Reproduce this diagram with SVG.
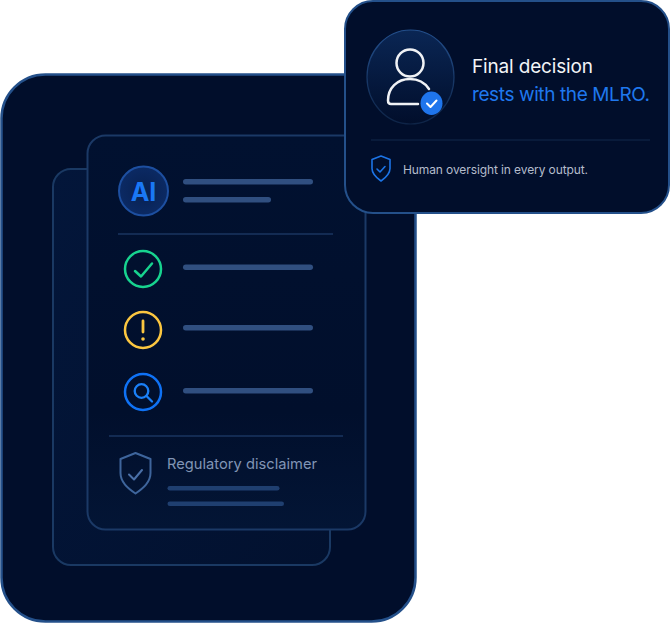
<svg xmlns="http://www.w3.org/2000/svg" width="670" height="624" viewBox="0 0 670 624">
<style>
.bar{fill:#304f80}
.lo{fill:#1f3f70}
.div{stroke:#1a3560;stroke-width:1.500;fill:none}
.ic{fill:none;stroke-linecap:round;stroke-linejoin:round}
text{font-family:Inter,"Liberation Sans",sans-serif}
</style>
<defs>
<linearGradient id="cardG" x1="0" y1="0" x2="1" y2="1"><stop offset="0" stop-color="#03163a"/><stop offset="1" stop-color="#02112f"/></linearGradient>
<linearGradient id="frontG" x1="0" y1="0" x2="0" y2="1"><stop offset="0" stop-color="#011130"/><stop offset=".7" stop-color="#010f2c"/><stop offset="1" stop-color="#031535"/></linearGradient>
<radialGradient id="aiG" cx="0.5" cy="0.5" r="0.6"><stop offset="0" stop-color="#082050"/><stop offset="1" stop-color="#0c2c68"/></radialGradient>
<linearGradient id="userG" x1="0" y1="0" x2="0" y2="1"><stop offset="0" stop-color="#0a2654"/><stop offset="1" stop-color="#010e2b"/></linearGradient>
<linearGradient id="userS" x1="0" y1="0" x2="0" y2="1"><stop offset="0" stop-color="#234f8c"/><stop offset="1" stop-color="#0e2447"/></linearGradient>
</defs>
<g id="outer-panel"><rect x="1.500" y="74.500" width="414" height="547" rx="44" fill="#010e2b" stroke="#24508a" stroke-width="2.500"/></g>
<g id="back-card"><rect x="53" y="169" width="277" height="396" rx="18" fill="url(#cardG)" stroke="#1a3963" stroke-width="2"/></g>
<g id="front-card">
<rect x="87.500" y="135.500" width="278" height="394" rx="18" fill="url(#frontG)" stroke="#1b3966" stroke-width="2"/>
<line class="div" x1="118" y1="234" x2="333" y2="234"/>
<line class="div" x1="109" y1="436" x2="343" y2="436"/>
</g>
<g id="ai-row">
<circle cx="143.500" cy="191" r="24.500" fill="url(#aiG)" stroke="#1d4fa0" stroke-width="2"/>
<text x="143.500" y="200.500" font-size="25" font-weight="700" fill="#1a78f5" text-anchor="middle">AI</text>
<rect class="bar" x="183" y="179" width="130" height="5.500" rx="2.750"/>
<rect class="bar" x="183" y="197" width="88" height="5.500" rx="2.750"/>
</g>
<g id="check-row">
<circle cx="143" cy="269" r="18" fill="none" stroke="#17d38f" stroke-width="2.500"/>
<path class="ic" d="M135 271l6 5.500 11-13" stroke="#17d38f" stroke-width="2.500"/>
<rect class="bar" x="183" y="264.500" width="130" height="5.500" rx="2.750"/>
</g>
<g id="warn-row">
<circle cx="143" cy="330" r="18" fill="none" stroke="#fbc640" stroke-width="2.500"/>
<path class="ic" d="M143 321v11" stroke="#fbc640" stroke-width="2.800"/>
<circle cx="143" cy="339" r="1.800" fill="#fbc640"/>
<rect class="bar" x="183" y="325" width="130" height="5.500" rx="2.750"/>
</g>
<g id="search-row">
<circle cx="143" cy="392" r="18" fill="none" stroke="#0f72f5" stroke-width="2.500"/>
<circle cx="141.500" cy="391" r="6.800" fill="none" stroke="#1a80f8" stroke-width="2.300"/>
<path class="ic" d="M146.500 396l5.500 5.500" stroke="#1a80f8" stroke-width="2.300"/>
<rect class="bar" x="183" y="388" width="130" height="5.500" rx="2.750"/>
</g>
<g id="disclaimer">
<path class="ic" d="M135.500 453l15 6v14c0 9-7 15-15 20.500-8-5.500-15-11.500-15-20.500v-14z" stroke="#3e659c" stroke-width="2"/>
<path class="ic" d="M129 474.500l5 5 8-9.500" stroke="#4a70a8" stroke-width="2"/>
<text x="167" y="469" font-size="14.700" fill="#8195b5" textLength="150">Regulatory disclaimer</text>
<rect class="lo" x="167.500" y="486" width="112" height="4.500" rx="2.250"/>
<rect class="lo" x="167.500" y="501.500" width="116.500" height="4.500" rx="2.250"/>
</g>
<g id="decision-card">
<rect x="345" y="1" width="324" height="212" rx="28" fill="#010e2b" stroke="#24508a" stroke-width="2"/>
<ellipse cx="410.500" cy="77" rx="43.500" ry="47" fill="url(#userG)" stroke="url(#userS)" stroke-width="1.200"/>
<circle cx="410" cy="63" r="13.500" fill="none" stroke="#f0f2f5" stroke-width="2.500"/>
<path class="ic" d="M429 89c-4-6-10-10-19-10-13 0-22 9-22 21.500 0 2 1 3.500 3 3.500h27" stroke="#f0f2f5" stroke-width="2.500"/>
<ellipse cx="431.500" cy="103.300" rx="11" ry="11.700" fill="#1f75ec"/>
<path class="ic" d="M427 103.500l3.500 3.500 6-6.500" stroke="#fff" stroke-width="2"/>
<text x="472" y="73" font-size="19" fill="#f2f4f7" textLength="121">Final decision</text>
<text x="472" y="101" font-size="19" fill="#1f78ee" textLength="178">rests with the MLRO.</text>
<line x1="371" y1="140" x2="650" y2="140" stroke="#12284d" stroke-width="1.200"/>
<path class="ic" d="M381 156l9 3.500v9c0 5.500-4 9-9 12.500-5-3.500-9-7-9-12.500v-9z" stroke="#1c74e6" stroke-width="1.600"/>
<path class="ic" d="M377 169l3 3 5-5.500" stroke="#1c74e6" stroke-width="1.600"/>
<text x="403" y="173.500" font-size="12" fill="#b4bccb" textLength="185">Human oversight in every output.</text>
</g>
</svg>
